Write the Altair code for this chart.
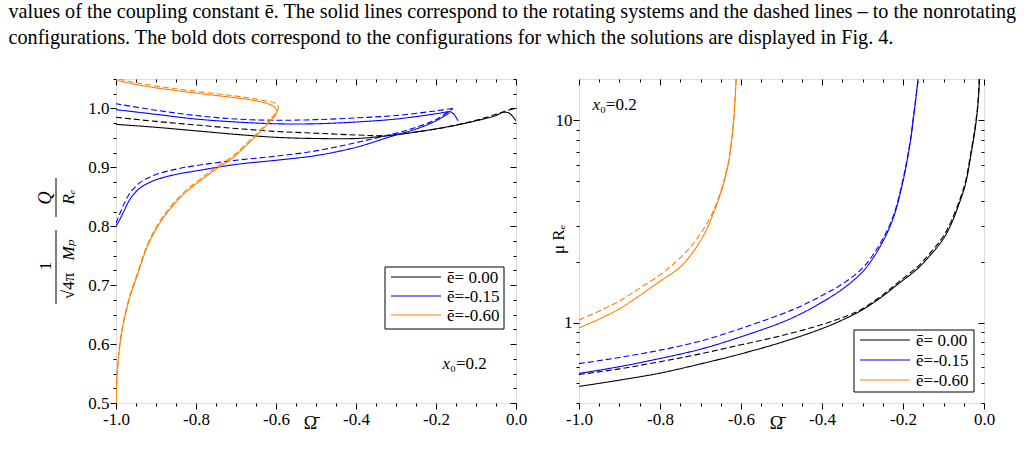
import altair as alt
import pandas as pd

FONT = "Liberation Serif, Times New Roman, DejaVu Serif, serif"

CAPTION_LINES = [
    "values of the coupling constant \u0113. The solid lines correspond to the rotating systems and the dashed lines \u2013 to the nonrotating",
    "configurations. The bold dots correspond to the configurations for which the solutions are displayed in Fig. 4.",
]
SERIES = ["\u0113= 0.00", "\u0113=-0.15", "\u0113=-0.60"]
COLORS = ["#000000", "#0000ff", "#ff8000"]
KINDS = ["rotating", "nonrotating"]

X_TICKS = [-1.0, -0.95, -0.9, -0.85, -0.8, -0.75, -0.7, -0.65, -0.6, -0.55, -0.5,
           -0.45, -0.4, -0.35, -0.3, -0.25, -0.2, -0.15, -0.1, -0.05, 0.0]
LEFT_Y_TICKS = [0.5, 0.525, 0.55, 0.575, 0.6, 0.625, 0.65, 0.675, 0.7, 0.725, 0.75,
                0.775, 0.8, 0.825, 0.85, 0.875, 0.9, 0.925, 0.95, 0.975, 1.0, 1.025, 1.05]
RIGHT_Y_TICKS = [0.4, 0.5, 0.6, 0.7, 0.8, 0.9, 1, 2, 3, 4, 5, 6, 7, 8, 9, 10]

# ---------------- left panel: Q / (sqrt(4pi) Mp Re) vs Omega ----------------
L_E0_ROT_X = [-1.0, -0.9, -0.8, -0.7, -0.6, -0.5, -0.4, -0.33, -0.25, -0.17, -0.1, -0.05, -0.035, -0.02, -0.01, 0.0]
L_E0_ROT_Y = [0.973, 0.968, 0.962, 0.956, 0.951, 0.949, 0.949, 0.953, 0.96, 0.969, 0.979, 0.988, 0.993, 0.993, 0.988, 0.979]
L_E0_NON_X = [-1.0, -0.9, -0.8, -0.7, -0.6, -0.5, -0.4, -0.33, -0.25, -0.17, -0.1, -0.05, -0.02, 0.0]
L_E0_NON_Y = [0.985, 0.978, 0.972, 0.966, 0.961, 0.958, 0.955, 0.954, 0.96, 0.969, 0.98, 0.99, 0.997, 1.0]

L_E15_ROT_LOW_X = [-1.0, -0.99, -0.98, -0.97, -0.96, -0.94, -0.92, -0.9, -0.85, -0.8, -0.7, -0.6, -0.5, -0.4, -0.31, -0.25, -0.2, -0.166]
L_E15_ROT_LOW_Y = [0.80, 0.812, 0.826, 0.84, 0.851, 0.865, 0.873, 0.879, 0.888, 0.894, 0.905, 0.912, 0.92, 0.934, 0.953, 0.965, 0.979, 0.993]
L_E15_ROT_UP_X = [-0.166, -0.2, -0.3, -0.4, -0.5, -0.6, -0.7, -0.8, -0.9, -1.0]
L_E15_ROT_UP_Y = [0.995, 0.991, 0.982, 0.977, 0.974, 0.974, 0.977, 0.982, 0.99, 0.998]
L_E15_ROT_HOOK_X = [-0.166, -0.155, -0.145]
L_E15_ROT_HOOK_Y = [0.995, 0.99, 0.979]
L_E15_NON_LOW_X = [-1.0, -0.99, -0.98, -0.97, -0.96, -0.94, -0.92, -0.9, -0.85, -0.8, -0.7, -0.6, -0.5, -0.4, -0.3, -0.25, -0.2, -0.158]
L_E15_NON_LOW_Y = [0.805, 0.822, 0.838, 0.851, 0.861, 0.874, 0.882, 0.888, 0.897, 0.903, 0.912, 0.919, 0.928, 0.942, 0.958, 0.968, 0.981, 1.0]
L_E15_NON_UP_X = [-0.158, -0.2, -0.3, -0.4, -0.5, -0.6, -0.7, -0.8, -0.9, -1.0]
L_E15_NON_UP_Y = [1.0, 0.996, 0.988, 0.984, 0.981, 0.98, 0.982, 0.988, 0.997, 1.008]

L_E60_ROT_X = [-1.0, -0.997, -0.99, -0.98, -0.965, -0.945, -0.925, -0.9, -0.87, -0.83, -0.79, -0.75, -0.71, -0.67,
               -0.64, -0.615, -0.60, -0.598, -0.605, -0.62, -0.65, -0.7, -0.8, -0.9, -0.96, -1.0]
L_E60_ROT_Y = [0.50, 0.55, 0.60, 0.64, 0.68, 0.72, 0.76, 0.795, 0.825, 0.855, 0.877, 0.897, 0.915, 0.94,
               0.96, 0.978, 0.99, 0.996, 1.003, 1.008, 1.013, 1.018, 1.026, 1.035, 1.042, 1.048]
L_E60_NON_X = [-1.0, -0.997, -0.99, -0.98, -0.965, -0.945, -0.925, -0.9, -0.87, -0.83, -0.79, -0.75, -0.71, -0.67,
               -0.64, -0.615, -0.60, -0.594, -0.596, -0.605, -0.62, -0.65, -0.7, -0.8, -0.9, -0.96, -1.0]
L_E60_NON_Y = [0.50, 0.552, 0.603, 0.643, 0.683, 0.723, 0.763, 0.798, 0.828, 0.858, 0.88, 0.9, 0.918, 0.943,
               0.963, 0.981, 0.993, 1.0, 1.006, 1.01, 1.012, 1.016, 1.021, 1.029, 1.038, 1.045, 1.051]

# ---------------- right panel: mu Re vs Omega (log) ----------------
R_E0_ROT_X = [-1.0, -0.9, -0.8, -0.7, -0.6, -0.5, -0.4, -0.336, -0.3, -0.25, -0.212, -0.165, -0.13, -0.1, -0.08, -0.057, -0.045, -0.032, -0.022, -0.015, -0.011]
R_E0_ROT_Y = [0.483, 0.519, 0.562, 0.624, 0.70, 0.798, 0.933, 1.06, 1.156, 1.35, 1.55, 1.84, 2.18, 2.6, 3.1, 4.1, 4.9, 6.8, 9.0, 11.9, 16]
R_E0_NON_X = [-1.0, -0.9, -0.8, -0.7, -0.6, -0.5, -0.4, -0.336, -0.3, -0.25, -0.212, -0.165, -0.13, -0.1, -0.08, -0.057, -0.045, -0.032, -0.022, -0.015, -0.012]
R_E0_NON_Y = [0.553, 0.59, 0.64, 0.70, 0.776, 0.861, 0.977, 1.084, 1.17, 1.37, 1.58, 1.88, 2.24, 2.68, 3.2, 4.2, 5.05, 7.0, 9.3, 12.2, 16]
R_E15_ROT_X = [-1.0, -0.9, -0.8, -0.7, -0.6, -0.5, -0.45, -0.4, -0.35, -0.3, -0.27, -0.24, -0.22, -0.2, -0.19, -0.18, -0.175, -0.17, -0.163]
R_E15_ROT_Y = [0.56, 0.605, 0.664, 0.738, 0.85, 1.0, 1.11, 1.26, 1.46, 1.78, 2.14, 2.75, 3.47, 5.0, 6.3, 8.3, 10.0, 12.0, 16]
R_E15_NON_X = [-1.0, -0.9, -0.8, -0.7, -0.6, -0.5, -0.45, -0.4, -0.35, -0.3, -0.27, -0.24, -0.22, -0.2, -0.19, -0.18, -0.175, -0.17, -0.162]
R_E15_NON_Y = [0.626, 0.672, 0.73, 0.81, 0.935, 1.1, 1.21, 1.36, 1.55, 1.86, 2.22, 2.83, 3.55, 5.1, 6.4, 8.4, 10.1, 12.1, 16]
R_E60_ROT_X = [-1.0, -0.95, -0.9, -0.85, -0.8, -0.75, -0.72, -0.69, -0.67, -0.65, -0.64, -0.63, -0.625, -0.618, -0.612]
R_E60_ROT_Y = [0.94, 1.04, 1.17, 1.36, 1.6, 1.88, 2.21, 2.75, 3.39, 4.37, 5.13, 6.3, 7.4, 10.0, 16]
R_E60_NON_X = [-1.0, -0.95, -0.9, -0.85, -0.8, -0.76, -0.73, -0.7, -0.67, -0.65, -0.64, -0.63, -0.625, -0.618, -0.612]
R_E60_NON_Y = [1.03, 1.14, 1.28, 1.48, 1.72, 2.0, 2.3, 2.75, 3.5, 4.45, 5.2, 6.35, 7.5, 10.1, 16]


def frame(curves):
    rows = []
    for series, kind, part, xs, ys in curves:
        for i, (xv, yv) in enumerate(zip(xs, ys)):
            rows.append({"series": series, "kind": kind, "part": f"{series}/{kind}/{part}",
                         "x": xv, "y": yv, "o": i})
    return pd.DataFrame(rows)


left_df = frame([
    (SERIES[0], "rotating", "a", L_E0_ROT_X, L_E0_ROT_Y),
    (SERIES[0], "nonrotating", "a", L_E0_NON_X, L_E0_NON_Y),
    (SERIES[1], "rotating", "low", L_E15_ROT_LOW_X, L_E15_ROT_LOW_Y),
    (SERIES[1], "rotating", "up", L_E15_ROT_UP_X, L_E15_ROT_UP_Y),
    (SERIES[1], "rotating", "hook", L_E15_ROT_HOOK_X, L_E15_ROT_HOOK_Y),
    (SERIES[1], "nonrotating", "low", L_E15_NON_LOW_X, L_E15_NON_LOW_Y),
    (SERIES[1], "nonrotating", "up", L_E15_NON_UP_X, L_E15_NON_UP_Y),
    (SERIES[2], "rotating", "a", L_E60_ROT_X, L_E60_ROT_Y),
    (SERIES[2], "nonrotating", "a", L_E60_NON_X, L_E60_NON_Y),
])
right_df = frame([
    (SERIES[0], "rotating", "a", R_E0_ROT_X, R_E0_ROT_Y),
    (SERIES[0], "nonrotating", "a", R_E0_NON_X, R_E0_NON_Y),
    (SERIES[1], "rotating", "a", R_E15_ROT_X, R_E15_ROT_Y),
    (SERIES[1], "nonrotating", "a", R_E15_NON_X, R_E15_NON_Y),
    (SERIES[2], "rotating", "a", R_E60_ROT_X, R_E60_ROT_Y),
    (SERIES[2], "nonrotating", "a", R_E60_NON_X, R_E60_NON_Y),
])
ONE = pd.DataFrame({"k": [0]})

X_SCALE = alt.Scale(domain=[-1.0, 0.0], nice=False, zero=False)
LY_SCALE = alt.Scale(domain=[0.5, 1.05], nice=False, zero=False)
RY_SCALE = alt.Scale(type="log", domain=[0.4, 16], nice=False)

MAJ_X = "abs(datum.value*5 - round(datum.value*5)) < 0.000001"
MAJ_LY = "abs(datum.value*10 - round(datum.value*10)) < 0.000001"
MAJ_RY = "datum.value == 1 || datum.value == 10"


def fmt1(test):
    return f"({test}) ? replace(format(datum.value, '.1f'), '\u2212', '-') : ''"


def out_dash(test):
    return {"condition": {"test": test, "value": [6, 0]}, "value": [3, 3]}


def in_dash(test):
    return {"condition": {"test": test, "value": [6, 0]}, "value": [0, 3, 3, 0]}


COMMON = dict(domain=False, grid=False, tickColor="black", tickWidth=1, tickSize=6,
              labelFont=FONT, labelFontSize=17, labelColor="black", labelOverlap=False,
              labelFlush=False, titleFont=FONT, titleColor="black", titleFontWeight="normal")


def bottom_axis(title_x):
    return alt.Axis(orient="bottom", values=X_TICKS, labelExpr=fmt1(MAJ_X), tickDash=out_dash(MAJ_X),
                    labelPadding=2, title="\u03a9\u0304", titleX=title_x, titleY=25,
                    titleBaseline="alphabetic", titleAlign="center", titleAngle=0, titleFontSize=18, **COMMON)


def top_axis():
    return alt.Axis(orient="top", values=X_TICKS, labels=False, offset=-6, tickDash=in_dash(MAJ_X),
                    title=None, **COMMON)


def side_axis(orient, values, test, label_expr=None, inward=False, **kw):
    if inward:
        return alt.Axis(orient=orient, values=values, labels=False, offset=-6, tickDash=in_dash(test),
                        title=None, **COMMON)
    return alt.Axis(orient=orient, values=values, labelExpr=label_expr, tickDash=out_dash(test),
                    labelPadding=1, **kw, **COMMON)


def lines(df, y_scale, x_axis, y_axis):
    return alt.Chart(df).mark_line(strokeWidth=1.1, clip=True, interpolate="catmull-rom").encode(
        x=alt.X("x:Q", scale=X_SCALE, axis=x_axis),
        y=alt.Y("y:Q", scale=y_scale, axis=y_axis),
        color=alt.Color("series:N", scale=alt.Scale(domain=SERIES, range=COLORS), legend=None),
        strokeDash=alt.StrokeDash("kind:N", scale=alt.Scale(domain=KINDS, range=[[1, 0], [6, 3]]), legend=None),
        detail="part:N",
        order="o:Q",
    )


def mirror(df, y_scale, x_axis, y_axis):
    return alt.Chart(df).mark_point(opacity=0).encode(
        x=alt.X("x:Q", scale=X_SCALE, axis=x_axis),
        y=alt.Y("y:Q", scale=y_scale, axis=y_axis),
    )


def x0_note(xv, yv, y_scale):
    base = alt.Chart(ONE).encode(x=alt.XDatum(xv, scale=X_SCALE, axis=None),
                                 y=alt.YDatum(yv, scale=y_scale, axis=None))
    a = base.mark_text(text="x", font=FONT, fontSize=17, fontStyle="italic", align="right",
                       baseline="alphabetic", color="black")
    b = base.mark_text(text="\u2080=0.2", font=FONT, fontSize=17, align="left",
                       baseline="alphabetic", color="black")
    return [a, b]


def legend_box(x1, y1, x2, y2, rows, line_x1, line_x2, text_x):
    parts = [alt.Chart(ONE).mark_rect(fill="white", stroke="black", strokeWidth=1).encode(
        x=alt.value(x1), x2=alt.value(x2), y=alt.value(y1), y2=alt.value(y2))]
    for name, col, ry in zip(SERIES, COLORS, rows):
        parts.append(alt.Chart(ONE).mark_rule(color=col, strokeWidth=1.2).encode(
            x=alt.value(line_x1), x2=alt.value(line_x2), y=alt.value(ry)))
        parts.append(alt.Chart(ONE).mark_text(text=name, font=FONT, fontSize=17, align="left",
                                              baseline="middle", color="black").encode(
            x=alt.value(text_x), y=alt.value(ry + 1)))
    return parts


def rot_text(txt, xpx, ypx, italic=False, size=17):
    return alt.Chart(ONE).mark_text(text=txt, font=FONT, fontSize=size,
                                    fontStyle=("italic" if italic else "normal"), angle=270,
                                    align="center", baseline="middle", color="black").encode(
        x=alt.value(xpx), y=alt.value(ypx))


def frac_bar(xpx, y1, y2):
    return alt.Chart(ONE).mark_rule(color="black", strokeWidth=1).encode(
        x=alt.value(xpx), y=alt.value(y1), y2=alt.value(y2))


formula = [
    rot_text("1", -70, 187),
    frac_bar(-60, 151, 225),
    rot_text("\u221a4\u03c0", -47, 207),
    rot_text("M\u209a", -47, 171, italic=True),
    rot_text("Q", -70, 119, italic=True, size=18),
    frac_bar(-60, 99, 138),
    rot_text("R\u2091", -47, 118, italic=True),
]

left = alt.layer(
    lines(left_df, LY_SCALE, bottom_axis(194),
          side_axis("left", LEFT_Y_TICKS, MAJ_LY, fmt1(MAJ_LY), title=None)),
    mirror(left_df, LY_SCALE, top_axis(), side_axis("right", LEFT_Y_TICKS, MAJ_LY, inward=True)),
    *x0_note(-0.165, 0.557, LY_SCALE),
    *legend_box(269, 188, 388, 250, [198, 217, 236], 275, 325, 331),
    *formula,
).resolve_axis(x="independent", y="independent").properties(width=400, height=324)

right = alt.layer(
    lines(right_df, RY_SCALE, bottom_axis(197),
          side_axis("left", RIGHT_Y_TICKS, MAJ_RY,
                    "datum.value == 1 ? '1' : (datum.value == 10 ? '10' : '')",
                    title="\u03bc R\u2091", titleX=-21, titleY=160, titleAngle=270,
                    titleBaseline="middle", titleAlign="center", titleFontSize=17)),
    mirror(right_df, RY_SCALE, top_axis(), side_axis("right", RIGHT_Y_TICKS, MAJ_RY, inward=True)),
    *x0_note(-0.948, 11.2, RY_SCALE),
    *legend_box(275, 251, 395, 313, [261, 281, 301], 281, 331, 337),
).resolve_axis(x="independent", y="independent").properties(width=405, height=324)

chart = alt.hconcat(left, right, spacing=20).properties(
    title=alt.TitleParams(text=CAPTION_LINES, anchor="start", dx=-28, offset=21, font=FONT,
                          fontSize=20.2, fontWeight="normal", color="black", lineHeight=26),
    padding={"left": 8, "top": 2, "right": 0, "bottom": 0},
).configure_view(stroke="black", strokeWidth=1).configure(background="white")

chart.save("out.html", embed_options={"renderer": "svg", "actions": False})
